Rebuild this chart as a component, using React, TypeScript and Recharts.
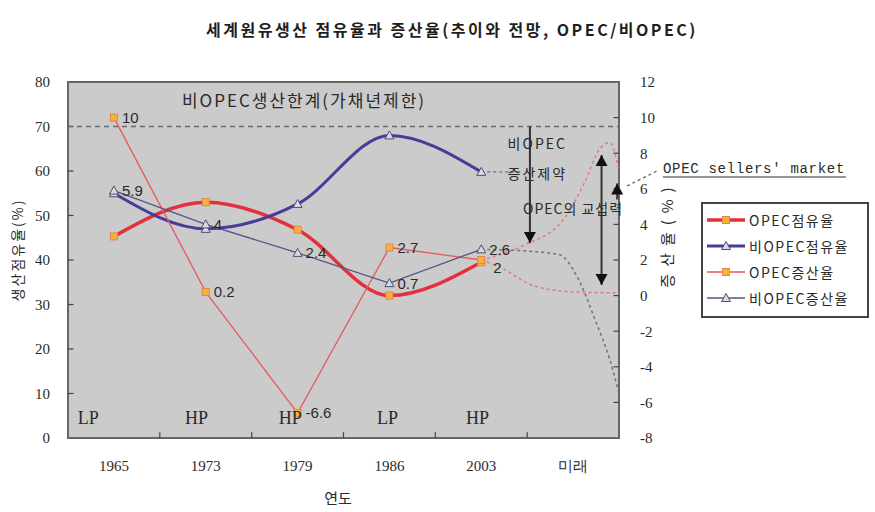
import React from 'react';
import {
  LineChart,
  Line,
  XAxis,
  YAxis,
  ReferenceArea,
  ReferenceLine,
  ReferenceDot,
  LabelList,
} from 'recharts';

// 연도 (category axis)
const years = ['1965', '1973', '1979', '1986', '2003', '미래'];

// 생산점유율 (%) – left axis
const opecShare = [45.3, 53, 46.8, 32, 39.5];
const nonOpecShare = [55, 47, 52.6, 68, 59.8];

// 증산율 (%) – right axis
const opecGrowth = [10, 0.2, -6.6, 2.7, 2];
const nonOpecGrowth = [5.9, 4, 2.4, 0.7, 2.6];

// Outlook after 2003 (x is the position on the year axis: 4 = 2003, 5 = 미래)
const outlookOpecHighX = [4, 4.45, 4.9, 5.12, 5.3, 5.4, 5.5];
const outlookOpecHigh = [2, 2.8, 4.3, 6.3, 8.3, 8.6, 7];
const outlookOpecLowX = [4, 4.2, 4.6, 5.05, 5.5];
const outlookOpecLow = [2, 1.6, 0.5, 0.2, 0.15];
const outlookNonOpecX = [4, 4.5, 4.85, 5.05, 5.25, 5.4, 5.5];
const outlookNonOpec = [2.6, 2.5, 2.3, 1.0, -1.5, -3.6, -5.5];
const outlookNonOpecShareX = [4, 4.45];
const outlookNonOpecShare = [59.8, 59.8];

// 비OPEC 생산한계 (left axis)
const nonOpecLimit = 70;

const leftTicks = [0, 10, 20, 30, 40, 50, 60, 70, 80];
const rightTicks = [-8, -6, -4, -2, 0, 2, 4, 6, 8, 10, 12];

// LP / HP period marks along the bottom
const periodMarks = [
  { x: -0.28, text: 'LP' },
  { x: 0.9, text: 'HP' },
  { x: 1.92, text: 'HP' },
  { x: 2.98, text: 'LP' },
  { x: 3.96, text: 'HP' },
];

const rows = years.slice(0, 5).map((_, i) => ({
  x: i,
  opecShare: opecShare[i],
  nonOpecShare: nonOpecShare[i],
  opecGrowth: opecGrowth[i],
  nonOpecGrowth: nonOpecGrowth[i],
}));

const toSeries = (xs: number[], vs: number[]) => xs.map((x, i) => ({ x, v: vs[i] }));

const C = {
  opecShare: '#e3303a',
  nonOpecShare: '#4b3a98',
  opecGrowth: '#e8585e',
  nonOpecGrowth: '#54548a',
  outlookPink: '#e07a86',
  outlookGrey: '#707078',
  plotBg: '#cbcbcb',
  frame: '#666',
  text: '#2a2a2a',
};

const KR = '"Noto Sans CJK KR", "Noto Sans", sans-serif';
const SERIF = '"Liberation Serif", serif';

const SquareDot = (props: any) => {
  const { cx, cy } = props;
  if (cx == null || cy == null) return null;
  return (
    <rect x={cx - 3.5} y={cy - 3.5} width={7} height={7} fill="#f6b33c" stroke="#e8844a" strokeWidth={1} />
  );
};

const TriangleDot = (props: any) => {
  const { cx, cy } = props;
  if (cx == null || cy == null) return null;
  return (
    <polygon
      points={`${cx},${cy - 4.5} ${cx + 4.5},${cy + 3.5} ${cx - 4.5},${cy + 3.5}`}
      fill="#d9d9e6"
      stroke="#4e4e70"
      strokeWidth={1}
    />
  );
};

// value label to the right of a point; the 2003 OPEC label sits a little lower
const makeValueLabel = (lowerLast: boolean) => (p: any) => {
  const { x, y, value, index } = p;
  if (x == null || y == null) return null;
  const shift = lowerLast && index === 4 ? 8 : 0;
  return (
    <text
      x={x + 8 + (shift ? 4 : 0)}
      y={y + shift}
      dy="0.36em"
      fontFamily='"Liberation Sans", sans-serif'
      fontSize={15}
      fill={C.text}
    >
      {String(value)}
    </text>
  );
};

const textLabel = (value: string, style: React.CSSProperties) => (p: any) => {
  const vb = p.viewBox || {};
  return (
    <text
      x={vb.x + (vb.width || 0) / 2}
      y={vb.y + (vb.height || 0) / 2}
      textAnchor="middle"
      dominantBaseline="central"
      style={style}
    >
      {value}
    </text>
  );
};

const arrowShape = (both: boolean) => (p: any) => {
  const { x1, y1, x2, y2 } = p;
  const dir = Math.sign(y2 - y1) || 1;
  const hw = 6;
  const hl = 11;
  const head = (x: number, y: number, d: number) =>
    `${x},${y} ${x - hw},${y - d * hl} ${x + hw},${y - d * hl}`;
  return (
    <g>
      <line x1={x1} y1={y1} x2={x2} y2={y2} stroke="#333" strokeWidth={2} />
      <polygon points={head(x2, y2, dir)} fill="#111" />
      {both && <polygon points={head(x1, y1, -dir)} fill="#111" />}
    </g>
  );
};

const legendItems = [
  { name: 'OPEC점유율', color: C.opecShare, width: 3.5, marker: 'square' },
  { name: '비OPEC점유율', color: C.nonOpecShare, width: 3, marker: 'triangle' },
  { name: 'OPEC증산율', color: C.opecGrowth, width: 1.5, marker: 'square' },
  { name: '비OPEC증산율', color: C.nonOpecGrowth, width: 1.5, marker: 'triangle' },
];

export default function App() {
  return (
    <div style={{ position: 'absolute', left: 0, top: 0, width: 875, height: 512, background: '#fff' }}>
      <LineChart
        width={875}
        height={512}
        data={rows}
        margin={{ top: 82, right: 196, bottom: 44, left: 0 }}
      >
        <ReferenceArea
          yAxisId="left"
          x1={-0.5}
          x2={5.5}
          y1={0}
          y2={80}
          fill={C.plotBg}
          fillOpacity={1}
          stroke={C.frame}
          strokeWidth={2}
        />
        <XAxis
          dataKey="x"
          type="number"
          domain={[-0.5, 5.5]}
          allowDataOverflow
          ticks={[0, 1, 2, 3, 4, 5]}
          interval={0}
          tickFormatter={(v: number) => years[v]}
          axisLine={false}
          tickLine={false}
          tickSize={0}
          tickMargin={22}
          height={30}
          tick={{ fontFamily: SERIF, fontSize: 15, fill: C.text }}
        />
        <YAxis
          yAxisId="left"
          domain={[0, 80]}
          ticks={leftTicks}
          interval={0}
          allowDataOverflow
          axisLine={false}
          tickLine={false}
          tickSize={0}
          tickMargin={18}
          width={68}
          tick={{ fontFamily: SERIF, fontSize: 15, fill: C.text }}
        />
        <YAxis
          yAxisId="right"
          orientation="right"
          domain={[-8, 12]}
          ticks={rightTicks}
          interval={0}
          allowDataOverflow
          axisLine={false}
          tickLine={false}
          tickSize={0}
          tickMargin={21}
          width={60}
          tick={{ fontFamily: SERIF, fontSize: 15, fill: C.text }}
        />

        {/* inner tick marks */}
        {[0.5, 1.5, 2.5, 3.5, 4.5].map((x) => (
          <ReferenceLine
            key={`xt${x}`}
            yAxisId="left"
            segment={[{ x, y: 0 }, { x, y: 1.3 }]}
            stroke="#444"
            strokeWidth={1.2}
          />
        ))}
        {leftTicks.slice(1, -1).map((t) => (
          <ReferenceLine
            key={`lt${t}`}
            yAxisId="left"
            segment={[{ x: -0.5, y: t }, { x: -0.44, y: t }]}
            stroke="#444"
            strokeWidth={1.2}
          />
        ))}
        {rightTicks.slice(1, -1).map((t) => (
          <ReferenceLine
            key={`rt${t}`}
            yAxisId="right"
            segment={[{ x: 5.44, y: t }, { x: 5.5, y: t }]}
            stroke="#444"
            strokeWidth={1.2}
          />
        ))}

        <ReferenceLine
          yAxisId="left"
          y={nonOpecLimit}
          stroke="#6a6a6a"
          strokeWidth={1.3}
          strokeDasharray="5 4"
        />

        {/* outlook */}
        <Line
          yAxisId="left"
          data={toSeries(outlookNonOpecShareX, outlookNonOpecShare)}
          dataKey="v"
          stroke={C.outlookGrey}
          strokeWidth={1.3}
          strokeDasharray="3 3"
          dot={false}
          isAnimationActive={false}
        />
        <Line
          yAxisId="right"
          data={toSeries(outlookOpecLowX, outlookOpecLow)}
          dataKey="v"
          type="monotone"
          stroke={C.outlookPink}
          strokeWidth={1.5}
          strokeDasharray="3 3"
          dot={false}
          isAnimationActive={false}
        />
        <Line
          yAxisId="right"
          data={toSeries(outlookOpecHighX, outlookOpecHigh)}
          dataKey="v"
          type="monotone"
          stroke={C.outlookPink}
          strokeWidth={1.5}
          strokeDasharray="3 3"
          dot={false}
          isAnimationActive={false}
        />
        <Line
          yAxisId="right"
          data={toSeries(outlookNonOpecX, outlookNonOpec)}
          dataKey="v"
          type="monotone"
          stroke={C.outlookGrey}
          strokeWidth={1.5}
          strokeDasharray="3 3"
          dot={false}
          isAnimationActive={false}
        />

        {/* shares */}
        <Line
          yAxisId="left"
          dataKey="opecShare"
          type="monotone"
          stroke={C.opecShare}
          strokeWidth={3.5}
          dot={<SquareDot />}
          isAnimationActive={false}
        />
        <Line
          yAxisId="left"
          dataKey="nonOpecShare"
          type="monotone"
          stroke={C.nonOpecShare}
          strokeWidth={3}
          dot={<TriangleDot />}
          isAnimationActive={false}
        />

        {/* growth rates */}
        <Line
          yAxisId="right"
          dataKey="opecGrowth"
          type="linear"
          stroke={C.opecGrowth}
          strokeWidth={1.3}
          dot={<SquareDot />}
          isAnimationActive={false}
        >
          <LabelList dataKey="opecGrowth" content={makeValueLabel(true)} />
        </Line>
        <Line
          yAxisId="right"
          dataKey="nonOpecGrowth"
          type="linear"
          stroke={C.nonOpecGrowth}
          strokeWidth={1.3}
          dot={<TriangleDot />}
          isAnimationActive={false}
        >
          <LabelList dataKey="nonOpecGrowth" content={makeValueLabel(false)} />
        </Line>

        {/* arrows */}
        <ReferenceLine
          yAxisId="left"
          segment={[{ x: 4.53, y: nonOpecLimit }, { x: 4.53, y: 43.8 }]}
          shape={arrowShape(false)}
        />
        <ReferenceLine
          yAxisId="right"
          segment={[{ x: 5.31, y: 7.9 }, { x: 5.31, y: 0.6 }]}
          shape={arrowShape(true)}
        />
        <ReferenceLine
          yAxisId="right"
          segment={[{ x: 5.48, y: 5.4 }, { x: 5.48, y: 6.3 }]}
          shape={arrowShape(false)}
        />

        {/* annotations */}
        <ReferenceDot
          yAxisId="left"
          x={2.07}
          y={76}
          r={0}
          stroke="none"
          label={textLabel('비OPEC생산한계(가채년제한)', {
            fontFamily: KR,
            fontSize: 17,
            letterSpacing: 2,
            fill: C.text,
          })}
        />
        <ReferenceDot
          yAxisId="left"
          x={4.61}
          y={66.3}
          r={0}
          stroke="none"
          label={textLabel('비OPEC', { fontFamily: KR, fontSize: 14, letterSpacing: 2, fill: C.text })}
        />
        <ReferenceDot
          yAxisId="left"
          x={4.61}
          y={59.6}
          r={0}
          stroke="none"
          label={textLabel('증산제약', { fontFamily: KR, fontSize: 14, letterSpacing: 2, fill: C.text })}
        />
        <ReferenceDot
          yAxisId="left"
          x={5.0}
          y={51.7}
          r={0}
          stroke="none"
          label={textLabel('OPEC의 교섭력', { fontFamily: KR, fontSize: 14, letterSpacing: 1, fill: C.text })}
        />
        {periodMarks.map((m, i) => (
          <ReferenceDot
            key={`pm${i}`}
            yAxisId="left"
            x={m.x}
            y={4.5}
            r={0}
            stroke="none"
            label={textLabel(m.text, { fontFamily: SERIF, fontSize: 18, fill: C.text })}
          />
        ))}
      </LineChart>

      <svg
        width={875}
        height={512}
        style={{ position: 'absolute', left: 0, top: 0, pointerEvents: 'none' }}
      >
        <text
          x={452}
          y={29}
          textAnchor="middle"
          dominantBaseline="central"
          fontFamily={KR}
          fontSize={16}
          fontWeight={700}
          letterSpacing={2.5}
          fill="#1e1e1e"
        >
          세계원유생산 점유율과 증산율(추이와 전망, OPEC/비OPEC)
        </text>

        <text
          transform="translate(17 250) rotate(-90)"
          textAnchor="middle"
          dominantBaseline="central"
          fontFamily={KR}
          fontSize={14}
          letterSpacing={2}
          fill={C.text}
        >
          생산점유율(%)
        </text>
        <text
          transform="translate(666 234) rotate(-90)"
          textAnchor="middle"
          dominantBaseline="central"
          fontFamily={KR}
          fontSize={15}
          letterSpacing={7}
          fill={C.text}
        >
          증산율(%)
        </text>
        <text
          x={338}
          y={497}
          textAnchor="middle"
          dominantBaseline="central"
          fontFamily={KR}
          fontSize={15}
          fill={C.text}
        >
          연도
        </text>

        {/* OPEC sellers' market */}
        <line x1={627} y1={186} x2={657} y2={171} stroke="#555" strokeWidth={1.2} strokeDasharray="3 3" />
        <text
          x={663}
          y={169}
          dominantBaseline="central"
          fontFamily='"Liberation Mono", monospace'
          fontSize={14}
          letterSpacing={0.7}
          fill={C.text}
        >
          OPEC sellers' market
        </text>
        <line x1={663} y1={177} x2={846} y2={177} stroke={C.text} strokeWidth={1} />

        {/* legend */}
        <rect x={702} y={203} width={166} height={114} fill="#fff" stroke="#444" strokeWidth={2} />
        {legendItems.map((it, i) => {
          const y = 220 + i * 26;
          return (
            <g key={it.name}>
              <line x1={707} y1={y} x2={745} y2={y} stroke={it.color} strokeWidth={it.width} />
              {it.marker === 'square' ? <SquareDot cx={726} cy={y} /> : <TriangleDot cx={726} cy={y} />}
              <text
                x={749}
                y={y}
                dominantBaseline="central"
                fontFamily={KR}
                fontSize={14}
                letterSpacing={1.5}
                fill={C.text}
              >
                {it.name}
              </text>
            </g>
          );
        })}
      </svg>
    </div>
  );
}
